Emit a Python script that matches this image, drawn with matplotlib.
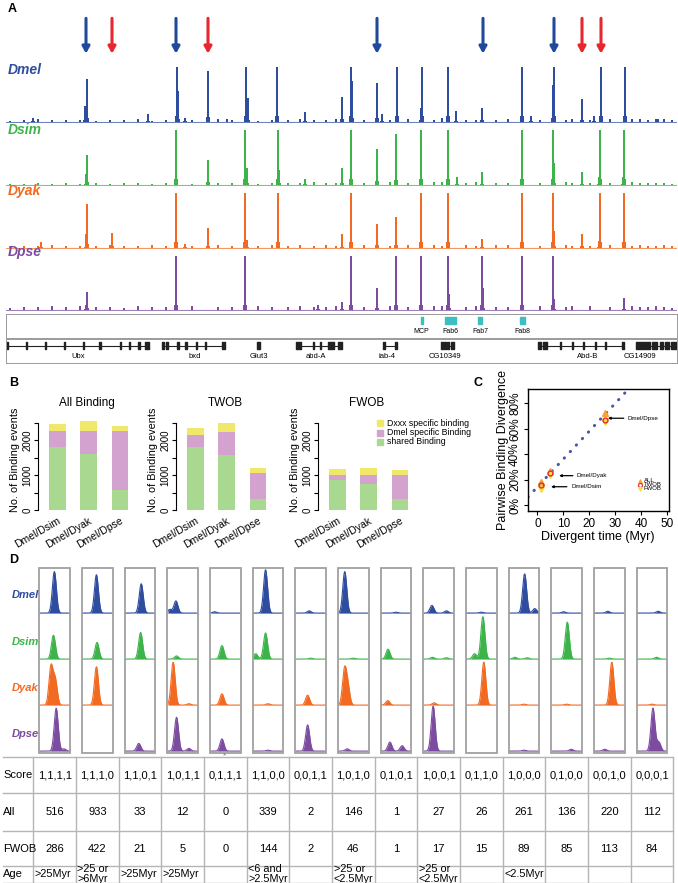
import numpy as np
import matplotlib.pyplot as plt
from matplotlib.patches import Rectangle

plt.rcParams['font.family'] = ['Liberation Sans', 'DejaVu Sans']

# ---------------- data ----------------
SPECIES = ["Dmel", "Dsim", "Dyak", "Dpse"]
SP_COLORS = {"Dmel": "#2f4d9f", "Dsim": "#3cb44a", "Dyak": "#f26a22", "Dpse": "#7b4c9f"}

# A: binding tracks along the BX-C locus (positions in locus units)
arrow_blue = [86, 176, 377, 483, 554]
arrow_red = [112, 208, 582, 601]

dmel_pos = [33, 85, 87, 148, 177, 178, 185, 208, 227, 246, 248, 277, 305, 342, 351, 352, 377,
            382, 397, 421, 422, 448, 456, 482, 522, 531, 553, 554, 582, 594, 601, 625, 658]
dmel_h = [.08, .29, .79, .15, 1, .57, .08, .92, .05, 1, .43, 1, .18, .45, 1, .74, .71,
          .15, 1, .26, 1, 1, .2, .26, 1, .1, .67, 1, .42, .1, 1, 1, .05]
dsim_pos = [86, 87, 176, 208, 245, 247, 278, 279, 305, 342, 351, 377, 396, 421, 448, 457,
            482, 522, 553, 554, 582, 599, 600, 623, 624]
dsim_h = [.2, .54, 1, .45, 1, .3, 1, .28, .1, .3, 1, .66, .93, 1, 1, .15,
          .23, 1, 1, .4, .23, .15, 1, .15, 1]
dyak_pos = [41, 86, 87, 112, 176, 185, 208, 245, 247, 278, 342, 351, 377, 396, 421, 448,
            482, 522, 553, 554, 582, 599, 600, 624]
dyak_h = [.1, .25, .8, .27, 1, .08, .36, 1, .15, 1, .25, 1, .44, .56, 1, 1,
          .17, 1, 1, .3, .26, .12, 1, 1]
dpse_pos = [86, 87, 176, 245, 318, 342, 351, 377, 396, 421, 448, 449, 482, 483, 522, 553, 554, 624]
dpse_h = [.1, .34, 1, 1, .1, .15, 1, .41, 1, 1, 1, .3, 1, .4, 1, 1, .2, .22]

bg_pos = [10, 24, 38, 52, 66, 80, 96, 110, 124, 138, 152, 166, 192, 218, 232, 258, 272, 288,
          300, 314, 326, 336, 364, 390, 408, 434, 442, 466, 476, 496, 508, 540, 566, 572, 590,
          610, 632, 640, 648, 656, 664, 672]
dmel_bg = [.02, .03, .05, .03, .04, .03, .02, .04, .03, .05, .02, .03, .04, .05, .03, .02, .04, .03,
           .05, .04, .03, .06, .04, .03, .05, .04, .07, .03, .04, .03, .05, .03, .04, .06, .04,
           .05, .06, .05, .04, .06, .05, .03]
dsim_bg = [.02, .02, .03, .02, .03, .02, .03, .02, .03, .04, .02, .03, .02, .04, .03, .02, .03, .04,
           .03, .05, .03, .04, .03, .05, .04, .05, .06, .04, .05, .03, .04, .03, .05, .04, .03,
           .04, .05, .03, .04, .03, .04, .02]
dyak_bg = [.03, .04, .03, .05, .04, .03, .04, .05, .03, .04, .05, .03, .04, .06, .04, .03, .05, .04,
           .05, .04, .06, .04, .05, .04, .06, .05, .04, .05, .04, .05, .06, .04, .05, .04, .03,
           .05, .04, .05, .04, .03, .05, .04]
dpse_bg = [.04, .06, .05, .07, .06, .08, .05, .06, .04, .07, .05, .06, .07, .05, .06, .07, .05, .06,
           .07, .06, .05, .07, .06, .08, .06, .07, .08, .06, .07, .06, .05, .07, .06, .08, .07,
           .06, .07, .05, .06, .07, .05, .04]

elem_names = ["MCP", "Fab6", "Fab7", "Fab8"]
elem_start = [420.5, 445, 478, 520]
elem_end = [422.5, 456, 482, 525]

gene_names = ["Ubx", "bxd", "Glut3", "abd-A", "iab-4", "CG10349", "Abd-B", "CG14909"]
gene_start = [6, 162, 257, 297, 383, 441, 538, 636]
gene_end = [149, 225, 260, 342, 396, 454, 623, 677]
gene_label_x = [78, 195, 259, 316, 387, 445, 588, 640]
gene_exons = [
    [(6, 2), (26, 1), (45, 1), (64, 1), (83, 1), (99, 2), (120, 1), (129, 1), (138, 2), (145, 4)],
    [(162, 2), (166, 2), (177, 2), (185, 2), (196, 1), (205, 1), (222, 3)],
    [(257, 3)],
    [(296, 5), (313, 1), (320, 1), (328, 6), (338, 4)],
    [(383, 2), (395, 2)],
    [(441, 2), (444, 2), (447, 2), (451, 3)],
    [(538, 3), (543, 4), (560, 1), (572, 1), (583, 1), (595, 1), (605, 1), (622, 2)],
    [(636, 14), (652, 5), (660, 3), (665, 4), (671, 6)],
]

# B: binding events per species pair
pairs = ["Dmel/Dsim", "Dmel/Dyak", "Dmel/Dpse"]
all_shared = [1810, 1600, 570]
all_dmel = [450, 660, 1690]
all_dxxx = [200, 285, 140]
twob_shared = [1810, 1570, 315]
twob_dmel = [335, 670, 745]
twob_dxxx = [210, 240, 140]
fwob_shared = [855, 745, 325]
fwob_dmel = [155, 265, 685]
fwob_dxxx = [150, 180, 135]

# C: divergence vs time
div_time = [1.5, 5.0, 25.8]
div_all = [0.179, 0.27, 0.727]
div_twob = [0.157, 0.254, 0.67]
div_fwob = [0.126, 0.236, 0.656]
fit_x = [-3.65, 34.0]
fit_y = [0.063, 0.89]

# D: example peaks per conservation pattern (height, centre within box, second bump)
dmel_pk = [0.92, 0.85, 0.65, 0.27, 0.03, 0.96, 0.05, 0.92, 0.02, 0.17, 0.02, 0.87, 0.03, 0.04, 0.04]
dmel_ct = [0.49, 0.47, 0.54, 0.28, 0.15, 0.42, 0.45, 0.22, 0.5, 0.28, 0.5, 0.52, 0.4, 0.45, 0.7]
dmel_h2 = [0, 0, 0, 0.08, 0, 0, 0, 0, 0, 0.05, 0, 0.1, 0, 0, 0]
dmel_c2 = [0, 0, 0, 0.08, 0, 0, 0, 0, 0, 0.75, 0, 0.85, 0, 0, 0]
dsim_pk = [0.53, 0.37, 0.59, 0.07, 0.30, 0.58, 0.02, 0.02, 0.22, 0.04, 0.94, 0.04, 0.82, 0.02, 0.04]
dsim_ct = [0.46, 0.49, 0.52, 0.3, 0.39, 0.42, 0.5, 0.5, 0.24, 0.3, 0.55, 0.2, 0.52, 0.5, 0.65]
dsim_h2 = [0, 0, 0, 0, 0, 0.12, 0, 0, 0, 0.03, 0.12, 0.03, 0, 0, 0]
dsim_c2 = [0, 0, 0, 0, 0, 0.1, 0, 0, 0, 0.75, 0.28, 0.6, 0, 0, 0]
dyak_pk = [0.85, 0.85, np.nan, 0.95, 0.25, 0.03, 0.22, 0.75, 0.1, 0.05, 0.95, 0.02, 0.02, 0.95, 0.02]
dyak_ct = [0.38, 0.47, 0.5, 0.19, 0.39, 0.5, 0.4, 0.21, 0.23, 0.35, 0.58, 0.5, 0.5, 0.58, 0.5]
dyak_h2 = [0.55, 0, 0, 0.03, 0, 0, 0, 0.4, 0, 0, 0, 0, 0, 0, 0]
dyak_c2 = [0.52, 0, 0, 0.7, 0, 0, 0, 0.32, 0, 0, 0, 0, 0, 0, 0]
dpse_pk = [0.95, np.nan, 0.17, 0.75, 0.27, 0.02, 0.58, 0.05, 0.2, 1.0, np.nan, 0.02, 0.04, 0.04, 0.95]
dpse_ct = [0.55, 0.5, 0.46, 0.3, 0.39, 0.5, 0.4, 0.3, 0.3, 0.32, 0.5, 0.5, 0.65, 0.35, 0.53]
dpse_h2 = [0.05, 0, 0, 0.06, 0, 0, 0, 0, 0.12, 0, 0, 0, 0, 0, 0.2]
dpse_c2 = [0.8, 0, 0, 0.7, 0, 0, 0, 0, 0.7, 0, 0, 0, 0, 0, 0.72]

score = ["1,1,1,1", "1,1,1,0", "1,1,0,1", "1,0,1,1", "0,1,1,1", "1,1,0,0", "0,0,1,1", "1,0,1,0",
         "0,1,0,1", "1,0,0,1", "0,1,1,0", "1,0,0,0", "0,1,0,0", "0,0,1,0", "0,0,0,1"]
n_all = [516, 933, 33, 12, 0, 339, 2, 146, 1, 27, 26, 261, 136, 220, 112]
n_fwob = [286, 422, 21, 5, 0, 144, 2, 46, 1, 17, 15, 89, 85, 113, 84]
age = [">25Myr", ">25 or\n>6Myr", ">25Myr", ">25Myr", "", "<6 and\n>2.5Myr", "", ">25 or\n<2.5Myr",
       "", ">25 or\n<2.5Myr", "", "<2.5Myr", "", "", ""]

# ---------------- figure ----------------
W, H = 678, 883
fig = plt.figure(figsize=(W / 100, H / 100), dpi=100)


def add_ax(x0, y0, x1, y1):
    ax = fig.add_axes([x0 / W, 1 - y1 / H, (x1 - x0) / W, (y1 - y0) / H])
    ax.patch.set_alpha(0)
    return ax


ov = add_ax(0, 0, W, H)
ov.set_xlim(0, W)
ov.set_ylim(H, 0)
ov.axis("off")
ov.set_zorder(10)

for lab, x, y in [("A", 8, 9), ("B", 9, 383), ("C", 474, 383), ("D", 9, 560)]:
    ov.text(x, y, lab, fontsize=9, fontweight="bold", ha="left", va="center")

# ---- A ----
BLUE_AR, RED_AR = "#1f4a9c", "#e8262d"
ax_ar = add_ax(6, 15, 677, 57)
ax_ar.set_xlim(6, 677)
ax_ar.set_ylim(0, 1)
ax_ar.axis("off")
for xs, col in [(arrow_blue, BLUE_AR), (arrow_red, RED_AR)]:
    for x in xs:
        ax_ar.annotate("", xy=(x, 0.08), xytext=(x, 0.92),
                       arrowprops=dict(arrowstyle="-|>,head_width=0.22,head_length=0.4",
                                       color=col, lw=2.2, shrinkA=0, shrinkB=0))

tracks = [("Dmel", 67, 123, 70, dmel_pos, dmel_h, dmel_bg),
          ("Dsim", 130, 186, 130, dsim_pos, dsim_h, dsim_bg),
          ("Dyak", 193, 249, 191, dyak_pos, dyak_h, dyak_bg),
          ("Dpse", 256, 311, 252, dpse_pos, dpse_h, dpse_bg)]
for name, top, base, ly, pos, h, bg in tracks:
    c = SP_COLORS[name]
    ax = add_ax(6, top, 677, base)
    ax.set_xlim(6, 677)
    ax.set_ylim(-0.02, 1.0)
    ax.axis("off")
    ax.axhline(0, color=c, lw=0.8, alpha=0.7)
    ax.bar(bg_pos, bg, width=2.5, color=c, lw=0)
    ax.bar(pos, h, width=1.4, color=c, lw=0)
    ax.bar(pos, np.array(h) * 0.1, width=4, color=c, lw=0)
    ov.text(8, ly, name, color=c, fontsize=10, fontweight="bold", fontstyle="italic",
            ha="left", va="center")

CYAN = "#3dbfc1"
ax_el = add_ax(6, 314, 677, 338)
ax_el.set_xlim(6, 677)
ax_el.set_ylim(0, 1)
ax_g = add_ax(6, 339, 677, 363)
ax_g.set_xlim(6, 677)
ax_g.set_ylim(0, 1)
for ax in (ax_el, ax_g):
    ax.set_xticks([])
    ax.set_yticks([])
    for sp in ax.spines.values():
        sp.set_color("#9a9a9a")
        sp.set_linewidth(0.7)
ax_el.broken_barh([(s, e - s) for s, e in zip(elem_start, elem_end)], (0.6, 0.26), color=CYAN)
for nm, s, e in zip(elem_names, elem_start, elem_end):
    ax_el.text((s + e) / 2, 0.27, nm, fontsize=5, ha="center", va="center")

for nm, s, e, lx, ex in zip(gene_names, gene_start, gene_end, gene_label_x, gene_exons):
    ax_g.hlines(0.72, s, e, color="#222222", lw=0.8)
    ax_g.broken_barh(ex, (0.58, 0.28), color="#222222")
    ax_g.text(lx, 0.27, nm, fontsize=5.5, ha="center", va="center")

# ---- B ----
C_SHARED, C_DMEL, C_DXXX = "#a9d990", "#d4a2cf", "#efe86a"
panels_b = [("All Binding", 38, all_shared, all_dmel, all_dxxx, 15),
            ("TWOB", 176, twob_shared, twob_dmel, twob_dxxx, 153),
            ("FWOB", 318, fwob_shared, fwob_dmel, fwob_dxxx, 295)]
for title, x0, sh, dm, dx, ylx in panels_b:
    ax = add_ax(x0, 419, x0 + 99, 510)
    xi = np.arange(len(pairs))
    sh, dm, dx = np.array(sh), np.array(dm), np.array(dx)
    ax.bar(xi, sh, 0.53, color=C_SHARED)
    ax.bar(xi, dm, 0.53, bottom=sh, color=C_DMEL)
    ax.bar(xi, dx, 0.53, bottom=sh + dm, color=C_DXXX)
    ax.set_xlim(-0.62, 2.55)
    ax.set_ylim(0, 2600)
    for s in ("top", "right", "bottom"):
        ax.spines[s].set_visible(False)
    ax.spines["left"].set_bounds(0, 2500)
    ax.spines["left"].set_linewidth(0.8)
    ax.set_yticks(np.arange(0, 2501, 500))
    ax.set_yticklabels(["0", "", "1000", "", "2000", ""], rotation=90, va="center")
    ax.tick_params(axis="y", labelsize=7, length=3, width=0.8, pad=1)
    ax.set_xticks(xi)
    ax.set_xticklabels(pairs, rotation=30, ha="right", rotation_mode="anchor", fontsize=7.5)
    ax.tick_params(axis="x", length=0, pad=4)
    ov.text(x0 + 49, 403, title, fontsize=8.5, ha="center", va="center")
    ov.text(ylx, 460, "No. of Binding events", fontsize=7.8, rotation=90, ha="center", va="center")

for i, (lab, col) in enumerate([("Dxxx specific binding", C_DXXX),
                                ("Dmel specific Binding", C_DMEL),
                                ("shared Binding", C_SHARED)]):
    y = 423 + i * 9.5
    ov.add_patch(Rectangle((377, y - 3), 6, 6, color=col))
    ov.text(387, y, lab, fontsize=6.3, ha="left", va="center")

# ---- C ----
ax = add_ax(528, 389, 669, 511)
ax.set_xlim(-3.65, 50.6)
ax.set_ylim(-0.047, 0.913)
ax.plot(fit_x, fit_y, color="#4a58a8", lw=2.2, linestyle=(0, (0.1, 2.8)), dash_capstyle="round")
ax.plot(div_time, div_all, "^", color="#f6a43a", ms=5, mec="#f6a43a")
ax.plot(div_time, div_fwob, "v", color="#f5e040", ms=5, mec="#f5e040")
ax.plot(div_time, div_twob, "o", mfc="none", mec="#e8262d", ms=3.5, mew=1)
for sp in ax.spines.values():
    sp.set_linewidth(1)
ax.set_xticks([0, 10, 20, 30, 40, 50])
ax.set_yticks([0, 0.2, 0.4, 0.6, 0.8])
ax.set_yticklabels(["0%", "20%", "40%", "60%", "80%"], rotation=90, va="center")
ax.tick_params(labelsize=8.5, length=3, pad=2)
for txt, xt, yt, xh in [("Dmel/Dpse", 34.8, 0.683, 27.1), ("Dmel/Dyak", 15.2, 0.231, 8.3),
                        ("Dmel/Dsim", 12.9, 0.144, 5.2)]:
    ax.annotate(txt, xy=(xh, yt), xytext=(xt, yt), fontsize=4.5, va="center", ha="left",
                arrowprops=dict(arrowstyle="-|>,head_width=0.15,head_length=0.3",
                                color="black", lw=0.9, shrinkA=1, shrinkB=0))
ov.text(503, 450, "Pairwise Binding Divergence", fontsize=9, rotation=90, ha="center", va="center")
ov.text(598, 537, "Divergent time (Myr)", fontsize=9, ha="center", va="center")
for i, (lab, mk, mc, mf) in enumerate([("ALL", "^", "#f6a43a", "#f6a43a"),
                                       ("TWOB", "o", "#e8262d", "none"),
                                       ("FWOB", "v", "#f5e040", "#f5e040")]):
    y = 480.5 + i * 4.2
    ov.plot([640], [y], mk, mec=mc, mfc=mf, ms=2.8, mew=0.8)
    ov.text(644, y, lab, fontsize=4.3, ha="left", va="center")

# ---- D ----
BOX_W = 0.72
box_left0, col_step = 39.3, 42.67
rows_d = [("Dmel", 613, 595, dmel_pk, dmel_ct, dmel_h2, dmel_c2),
          ("Dsim", 659, 642, dsim_pk, dsim_ct, dsim_h2, dsim_c2),
          ("Dyak", 705, 688, dyak_pk, dyak_ct, dyak_h2, dyak_c2),
          ("Dpse", 751, 734, dpse_pk, dpse_ct, dpse_h2, dpse_c2)]
sig = 0.065
for name, base, ly, pk, ct, h2, c2 in rows_d:
    c = SP_COLORS[name]
    ax = add_ax(box_left0, base - 45, box_left0 + col_step * 14 + 30.7, base + 1)
    ax.set_xlim(0, 14 + BOX_W)
    ax.set_ylim(-0.02, 1.0)
    ax.axis("off")
    for i in range(15):
        if np.isnan(pk[i]):
            continue
        u = np.linspace(0.02, 0.98, 150)
        y = pk[i] * np.exp(-0.5 * ((u - ct[i]) / sig) ** 2) + \
            h2[i] * np.exp(-0.5 * ((u - c2[i]) / sig) ** 2)
        xx = i + u * BOX_W
        ax.fill_between(xx, 0, y, color=c, lw=0)
        ax.plot(xx, y, color=c, lw=0.8)
    ov.text(12, ly, name, color=c, fontsize=8, fontweight="bold", fontstyle="italic",
            ha="left", va="center")

for i in range(15):
    ov.add_patch(Rectangle((box_left0 + col_step * i, 568), 30.7, 185, fill=False,
                           ec="#a0a0a0", lw=1.3))
ov.text(box_left0 + col_step * 4 + 15, 756, "*", fontsize=6, color="#777777", ha="center", va="center")

# table
tab_x0 = box_left0 + 15.35 - col_step / 2
row_lines = [757, 793, 831, 866, 883]
GRID = "#b5b5b5"
for y in row_lines:
    ov.plot([3, tab_x0 + col_step * 15], [y, y], color=GRID, lw=1)
for k in range(16):
    x = tab_x0 + col_step * k
    ov.plot([x, x], [757, 883], color=GRID, lw=1)
row_cent = [775, 812, 849, 874]
for lab, y in zip(["Score", "All", "FWOB", "Age"], row_cent):
    ov.text(3, y, lab, fontsize=8, ha="left", va="center")
for i in range(15):
    xc = tab_x0 + col_step * (i + 0.5)
    ov.text(xc, row_cent[0], score[i], fontsize=8, ha="center", va="center")
    ov.text(xc, row_cent[1], str(n_all[i]), fontsize=8, ha="center", va="center")
    ov.text(xc, row_cent[2], str(n_fwob[i]), fontsize=8, ha="center", va="center")
    if age[i]:
        ov.text(tab_x0 + col_step * i + 1.5, row_cent[3], age[i], fontsize=7.8, ha="left",
                va="center", linespacing=0.95)

fig.savefig("out.png", dpi=100)
